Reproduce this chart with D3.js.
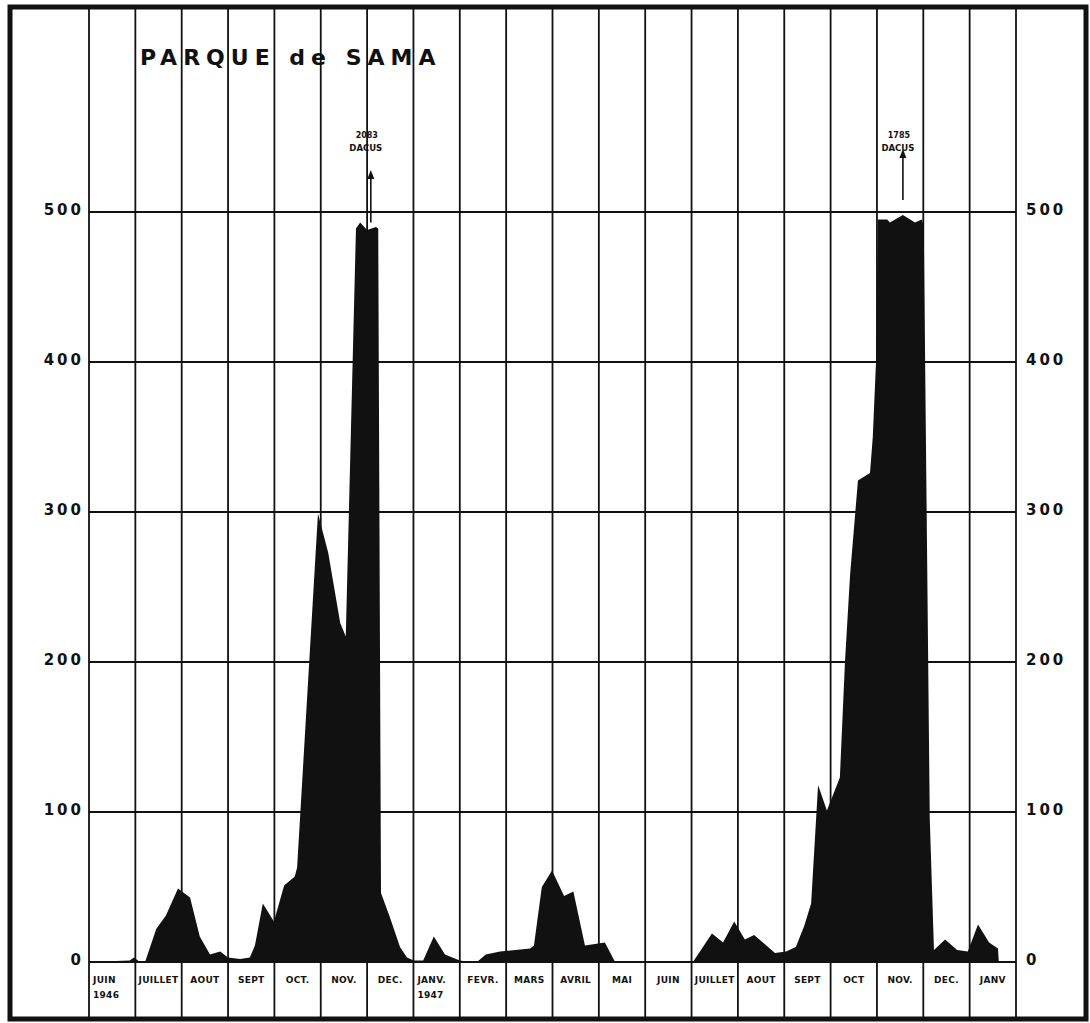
<!DOCTYPE html>
<html>
<head>
<meta charset="utf-8">
<script src="https://cdn.jsdelivr.net/npm/d3@7"></script>
<style>
  html, body { margin: 0; padding: 0; background: #fff; }
  text { font-family: "DejaVu Sans", sans-serif; font-weight: bold; fill: #111; }
</style>
</head>
<body>
<div id="chart"></div>
<script>
// month columns, June 1946 .. January 1948
const months = ['JUIN', 'JUILLET', 'AOUT', 'SEPT', 'OCT.', 'NOV.', 'DEC.', 'JANV.', 'FEVR.', 'MARS',
  'AVRIL', 'MAI', 'JUIN', 'JUILLET', 'AOUT', 'SEPT', 'OCT', 'NOV.', 'DEC.', 'JANV']
const yearLabels = ['1946', '', '', '', '', '', '', '1947', '', '', '', '', '', '', '', '', '', '', '', '']
const yTicks = [0, 100, 200, 300, 400, 500]

// capture dates (in months from 1 June 1946) and Dacus counts
const dates = [0, 0.88, 0.97, 1.1, 1.21, 1.45, 1.66, 1.92, 2.18, 2.39, 2.61, 2.83, 3.0, 3.26, 3.47, 3.58,
  3.75, 3.99, 4.21, 4.44, 4.49, 4.94, 5.16, 5.42, 5.54, 5.76, 5.85, 6.0, 6.19, 6.24, 6.3, 6.49, 6.71,
  6.86, 7.01, 7.21, 7.44, 7.68, 8.0, 8.22, 8.37, 8.56, 8.87, 9.52, 9.6, 9.77, 9.99, 10.25, 10.45,
  10.7, 11.13, 11.35, 13.03, 13.44, 13.68, 13.92, 14.15, 14.35, 14.8, 15.04, 15.25, 15.43, 15.58,
  15.73, 15.92, 16.2, 16.31, 16.42, 16.59, 16.85, 16.91, 16.98, 17.02, 17.22, 17.28, 17.56, 17.82,
  17.97, 18.01, 18.14, 18.23, 18.47, 18.73, 18.96, 19.18, 19.42, 19.61, 19.63]
const captures = [0, 1, 3, 0, 0, 22, 31, 49, 43, 17, 5, 7, 3, 2, 3, 11,
  39, 27, 51, 57, 63, 299, 273, 226, 217, 489, 493, 488, 490, 489, 46, 30, 10,
  3, 1, 1, 17, 5, 1, 0, 0, 5, 7, 9, 11, 50, 61, 44, 47,
  11, 13, 0, 0, 19, 13, 27, 15, 18, 6, 7, 10, 24, 39,
  118, 101, 123, 200, 258, 321, 326, 350, 400, 495, 495, 493, 498, 493,
  495, 490, 95, 8, 15, 8, 7, 25, 13, 9, 0]

// off-scale peaks noted above the chart
const peakNotes = [
  { month: 6.08, from: 493, to: 526, count: '2083' },
  { month: 17.56, from: 508, to: 540, count: '1785' }
]

const width = 1090
const height = 1023

const svg = d3.select('#chart').append('svg')
  .attr('width', width)
  .attr('height', height)

const xScale = d3.scaleLinear().domain([0, months.length]).range([89, 1016])
const yScale = d3.scaleLinear().domain([0, 500]).range([962, 212])

const gridTop = 7
const gridBottom = 1019
const data = dates.map((d, i) => ({ m: d, v: captures[i] }))

// filled curve
svg.append('path')
  .datum(data)
  .attr('fill', '#111')
  .attr('d', d3.area()
    .x(d => xScale(d.m))
    .y0(yScale(0))
    .y1(d => yScale(d.v)))

// grid
svg.append('g')
  .selectAll('line')
  .data(d3.range(0, months.length + 1))
  .enter().append('line')
  .attr('x1', d => xScale(d)).attr('x2', d => xScale(d))
  .attr('y1', gridTop).attr('y2', gridBottom)
  .attr('stroke', '#111')
  .attr('stroke-width', 1.8)

svg.append('g')
  .selectAll('line')
  .data(yTicks)
  .enter().append('line')
  .attr('x1', xScale(0)).attr('x2', xScale(months.length))
  .attr('y1', d => yScale(d)).attr('y2', d => yScale(d))
  .attr('stroke', '#111')
  .attr('stroke-width', 1.8)

// y labels both sides
svg.append('g')
  .selectAll('text')
  .data(yTicks)
  .enter().append('text')
  .attr('x', 84)
  .attr('y', d => yScale(d) + 3)
  .attr('text-anchor', 'end')
  .attr('font-size', 15)
  .attr('letter-spacing', 3)
  .text(d => d)

svg.append('g')
  .selectAll('text')
  .data(yTicks)
  .enter().append('text')
  .attr('x', 1026)
  .attr('y', d => yScale(d) + 3)
  .attr('font-size', 15)
  .attr('letter-spacing', 3)
  .text(d => d)

// month labels
const monthG = svg.append('g')
monthG.selectAll('text.m')
  .data(months)
  .enter().append('text')
  .attr('class', 'm')
  .attr('x', (d, i) => yearLabels[i] ? xScale(i) + 4 : xScale(i + 0.5))
  .attr('y', 983)
  .attr('text-anchor', (d, i) => yearLabels[i] ? 'start' : 'middle')
  .attr('font-size', 9)
  .attr('letter-spacing', 0.3)
  .text(d => d)

monthG.selectAll('text.y')
  .data(yearLabels)
  .enter().append('text')
  .attr('class', 'y')
  .attr('x', (d, i) => xScale(i) + 4)
  .attr('y', 998)
  .attr('font-size', 9)
  .attr('letter-spacing', 0.3)
  .text(d => d)

// peak notes
const note = svg.append('g')
  .selectAll('g')
  .data(peakNotes)
  .enter().append('g')

note.append('line')
  .attr('x1', d => xScale(d.month)).attr('x2', d => xScale(d.month))
  .attr('y1', d => yScale(d.from)).attr('y2', d => yScale(d.to) + 4)
  .attr('stroke', '#111')
  .attr('stroke-width', 1.6)

note.append('path')
  .attr('d', d => {
    const x = xScale(d.month)
    const y = yScale(d.to)
    return `M${x},${y - 3}L${x - 3.5},${y + 6}L${x + 3.5},${y + 6}Z`
  })
  .attr('fill', '#111')

note.append('text')
  .attr('x', d => xScale(d.month) - 4)
  .attr('y', 138)
  .attr('text-anchor', 'middle')
  .attr('font-size', 8)
  .text(d => d.count)

note.append('text')
  .attr('x', d => xScale(d.month) - 5)
  .attr('y', 151)
  .attr('text-anchor', 'middle')
  .attr('font-size', 8.5)
  .text('DACUS')

// title
svg.append('text')
  .attr('x', 140)
  .attr('y', 65)
  .attr('font-size', 22)
  .attr('letter-spacing', 6)
  .text('PARQUE de SAMA')

// outer frame
svg.append('rect')
  .attr('x', 10).attr('y', 7)
  .attr('width', 1076).attr('height', 1012)
  .attr('fill', 'none')
  .attr('stroke', '#111')
  .attr('stroke-width', 5)
</script>
</body>
</html>
